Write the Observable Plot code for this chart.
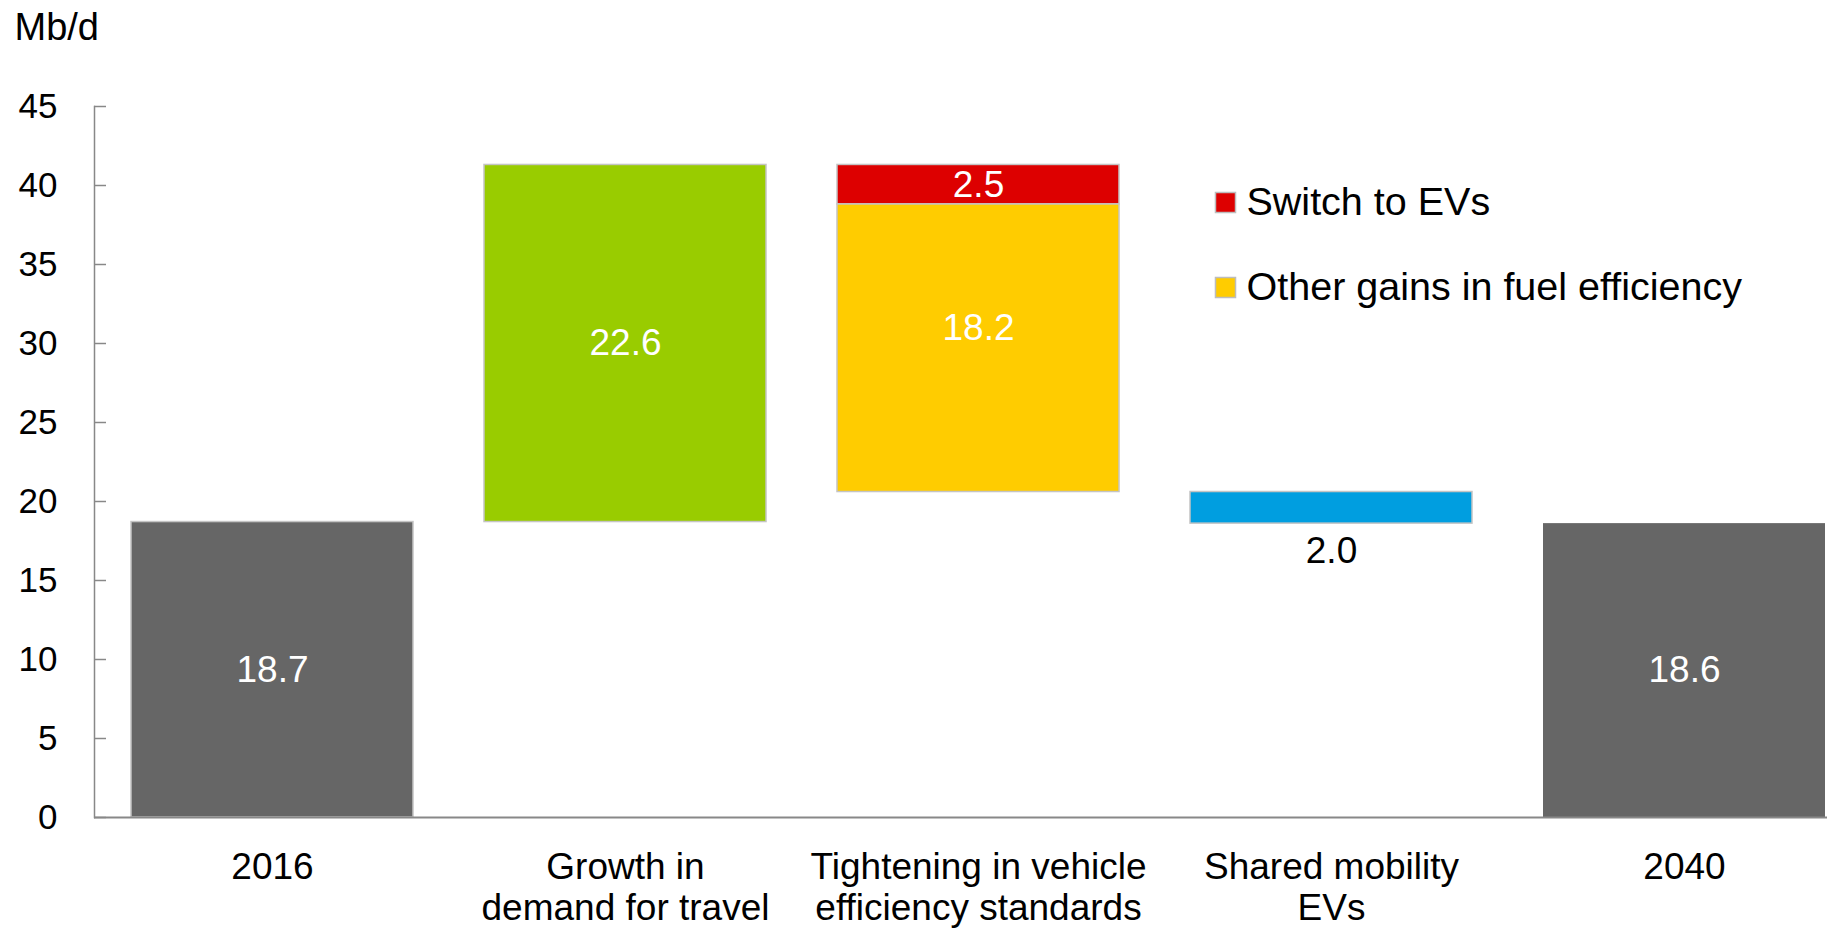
<!DOCTYPE html>
<html>
<head>
<meta charset="utf-8">
<script src="https://cdn.jsdelivr.net/npm/d3@7"></script>
<script src="https://cdn.jsdelivr.net/npm/@observablehq/plot@0.6"></script>
<style>
  html, body { margin: 0; padding: 0; background: #fff; }
  #chart svg { display: block; }
</style>
</head>
<body>
<div id="chart"></div>
<script>
// ---- data ----
const categories = ["2016", "Growth in\ndemand for travel", "Tightening in vehicle\nefficiency standards", "Shared mobility\nEVs", "2040"];
const segCategory = [categories[0], categories[1], categories[2], categories[2], categories[3], categories[4]];
const segKey = ["2016", "Growth in demand for travel", "Switch to EVs", "Other gains in fuel efficiency", "Shared mobility EVs", "2040"];
const segValue = [18.7, 22.6, -2.5, -18.2, -2.0, 18.6];
const segIsTotal = [true, false, false, false, false, true];
const segLabelPlace = ["mid", "mid", "mid", "column", "below", "mid"];
const palette = ["#666666", "#99cc00", "#dd0000", "#ffcc00", "#009ee0", "#666666"];
const legendLabels = ["Switch to EVs", "Other gains in fuel efficiency"];
const yTicks = [0, 5, 10, 15, 20, 25, 30, 35, 40, 45];

// ---- waterfall layout ----
let running = 0;
const segments = segValue.map((v, i) => {
  let y1, y2;
  if (segIsTotal[i]) { y1 = 0; y2 = v; running = v; }
  else { y1 = running; y2 = running + v; running = y2; }
  return {
    category: segCategory[i], key: segKey[i], value: v,
    y1, y2, lo: Math.min(y1, y2), hi: Math.max(y1, y2),
    label: d3.format(".1f")(Math.abs(v)), place: segLabelPlace[i], total: segIsTotal[i]
  };
});
// column extents (for labels centred on a whole stacked column)
const colExtent = d3.rollup(segments, g => [d3.min(g, d => d.lo), d3.max(g, d => d.hi)], d => d.category);
const labelY = d => d.place === "column"
  ? (colExtent.get(d.category)[0] + colExtent.get(d.category)[1]) / 2
  : (d.lo + d.hi) / 2;

const font = "'Liberation Sans', Arial, sans-serif";

const legendMarks = legendLabels.flatMap((lab, i) => [
  Plot.dot([lab], {frameAnchor: "top-left", dx: 1131, dy: 96 + i * 85, symbol: "square", r: 11.3,
    fill: d => d, stroke: "#bdbdbd", strokeWidth: 1.5}),
  Plot.text([lab], {frameAnchor: "top-left", dx: 1152, dy: 96 + i * 85, textAnchor: "start",
    lineAnchor: "middle", fontSize: 39.5, fill: "#000"})
]);

const chart = Plot.plot({
  width: 1848,
  height: 928,
  marginLeft: 94,
  marginRight: 21,
  marginTop: 106,
  marginBottom: 111,
  style: {fontFamily: font, fontSize: "37px", color: "#000", background: "#fff"},
  x: {domain: categories, range: [130, 1827], paddingInner: 0.2, paddingOuter: 0},
  y: {domain: [0, 45]},
  color: {domain: segKey, range: palette},
  marks: [
    Plot.barY(segments.filter(d => d.key !== "2040"), {x: "category", y1: "y1", y2: "y2", fill: "key", stroke: "#c4c4c4", strokeWidth: 1.5}),
    Plot.barY(segments.filter(d => d.key === "2040"), {x: "category", y1: "y1", y2: "y2", fill: "key"}),
    Plot.text(segments.filter(d => d.place !== "below"), {x: "category", y: labelY, text: "label",
      fill: "#fff", fontSize: 37, lineAnchor: "middle"}),
    Plot.text(segments.filter(d => d.place === "below"), {x: "category", y: "lo", text: "label",
      fill: "#000", fontSize: 37, lineAnchor: "top", dy: 13}),
    Plot.frame({anchor: "left", stroke: "#888", strokeWidth: 1.5}),
    Plot.ruleY([0], {stroke: "#888", strokeWidth: 2}),
    Plot.axisY({ticks: yTicks, tickSize: -12, tickPadding: 49, label: null, fontSize: 35, stroke: "#888", strokeWidth: 1.5}),
    Plot.axisX({tickSize: 0, tickPadding: 33, label: null, fontSize: 37, lineHeight: 1.1}),
    Plot.text(["Mb/d"], {frameAnchor: "top-left", dx: -80, dy: -67, textAnchor: "start", lineAnchor: "bottom", fontSize: 38, fill: "#000"}),
    ...legendMarks
  ]
});
document.getElementById("chart").append(chart);
</script>
</body>
</html>
